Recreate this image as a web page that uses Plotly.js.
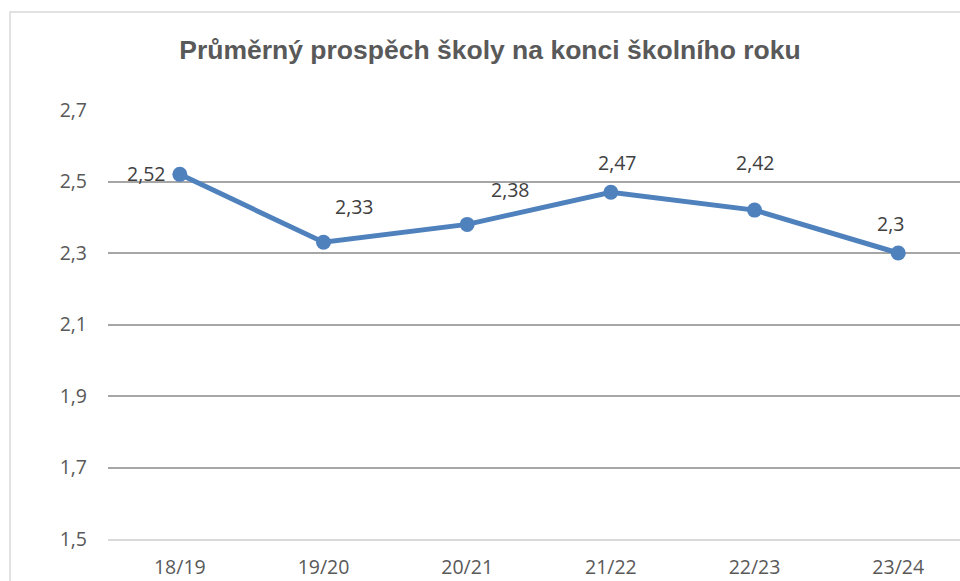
<!DOCTYPE html>
<html><head><meta charset="utf-8">
<script src="https://cdn.plot.ly/plotly-3.0.1.min.js"></script>
<style>html,body{margin:0;padding:0;background:#fff}#chart{width:960px;height:581px}</style>
</head><body><div id="chart"></div>
<script>
const categories = ['18/19','19/20','20/21','21/22','22/23','23/24'];
const values = [2.52, 2.33, 2.38, 2.47, 2.42, 2.3];
const yTicks = [1.5, 1.7, 1.9, 2.1, 2.3, 2.5, 2.7];
const labelShiftX = [-33, 31, 43, 7, 1, -8];
const labelShiftY = [1, 36, 35, 30, 48, 30];

const fmt = v => String(v).replace('.', ',');
const FONT = 'Open Sans, Liberation Sans, sans-serif';

const annotations = categories.map((c, i) => ({
  x: c, y: values[i], xref: 'x', yref: 'y', text: fmt(values[i]), showarrow: false,
  xshift: labelShiftX[i], yshift: labelShiftY[i],
  font: {family: FONT, size: 19.5, color: '#404040'}
}));

Plotly.newPlot('chart', [{
  type: 'scatter', mode: 'lines+markers', x: categories, y: values,
  line: {color: '#4f81bd', width: 5},
  marker: {color: '#4f81bd', size: 15},
  hoverinfo: 'none', cliponaxis: false
}], {
  width: 960, height: 581,
  margin: {l: 108, r: 0, t: 110, b: 42},
  separators: ', ',
  paper_bgcolor: '#fff', plot_bgcolor: '#fff',
  showlegend: false,
  title: {text: 'Průměrný prospěch školy na konci školního roku', x: 490/960, xanchor: 'center', y: 1 - 50/581, yanchor: 'middle',
    font: {family: 'Liberation Sans, Arial, sans-serif', size: 26.5, color: '#595959', weight: 'bold'}},
  xaxis: {type: 'category', range: [-0.5, 5.43], showgrid: false, zeroline: false,
    showline: true, linecolor: '#d9d9d9', linewidth: 2, ticks: '',
    ticklabelstandoff: 10,
    tickfont: {family: FONT, size: 19.5, color: '#595959'}},
  yaxis: {range: [1.5, 2.7], tickvals: yTicks, tickformat: '.1f', showgrid: true,
    gridcolor: '#a6a6a6', gridwidth: 2, zeroline: false, showline: false, ticks: '',
    ticklabelstandoff: 20,
    tickfont: {family: FONT, size: 19.5, color: '#595959'}},
  annotations: annotations,
  shapes: [{type: 'rect', xref: 'paper', yref: 'paper', x0: (10-108)/852, x1: 1.2, y0: -0.5, y1: (539-12)/429,
    line: {color: '#d9d9d9', width: 1.5}, fillcolor: 'rgba(0,0,0,0)', layer: 'below'}]
}, {displayModeBar: false, staticPlot: true});
</script></body></html>
